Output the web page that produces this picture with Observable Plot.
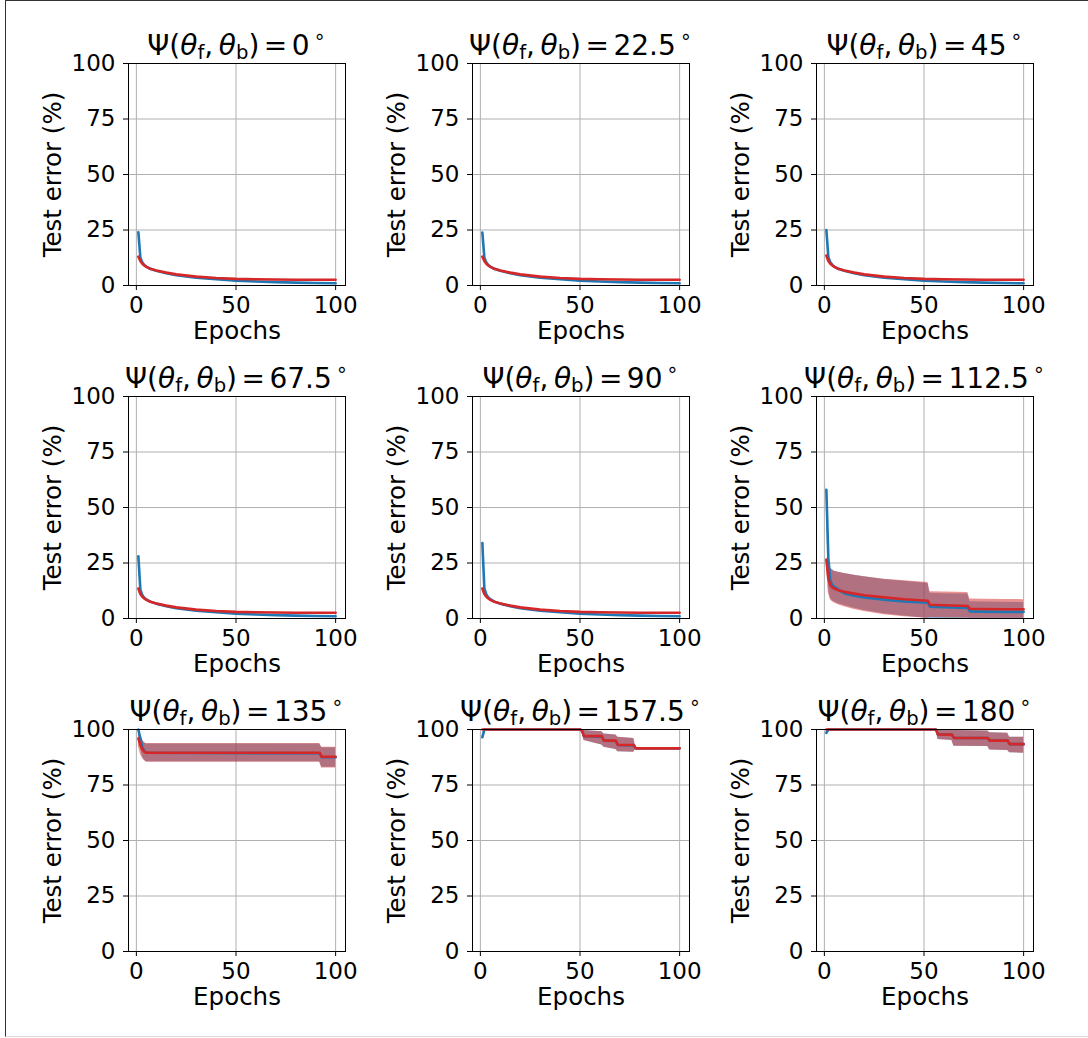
<!DOCTYPE html>
<html><head><meta charset="utf-8">
<script src="https://cdn.jsdelivr.net/npm/d3@7"></script>
<script src="https://cdn.jsdelivr.net/npm/@observablehq/plot@0.6"></script>
<style>
body{margin:0;background:#fff;}
#page{position:relative;width:1088px;height:1038px;overflow:hidden;font-family:"DejaVu Sans",sans-serif;background:#fff;}
#border{position:absolute;left:5px;top:0;width:1200px;height:1035px;border-left:1.5px solid #333;border-top:1.5px solid #333;border-bottom:1px solid #d8d8d8;}
.title{position:absolute;width:400px;text-align:center;font-size:28px;line-height:28px;white-space:nowrap;color:#000;font-family:"DejaVu Sans",sans-serif;}
.title i{font-style:italic;}
.sub{font-size:0.7em;position:relative;top:0.22em;}
.sup{font-size:0.7em;position:relative;top:-0.6em;margin-left:0.2em;}
.eq{margin:0 0.16em;}
</style></head><body><div id="page"><div id="border"></div></div>
<script>
// ---------- data ----------
const angles = ["0", "22.5", "45", "67.5", "90", "112.5", "135", "157.5", "180"];
const xTicks = [0, 50, 100];
const yTicks = [0, 25, 50, 75, 100];

// panels 0° – 90°: smooth decays (bands very narrow)
const epochsLow = [1, 2, 3, 4, 5, 7, 10, 15, 20, 30, 40, 50, 60, 70, 80, 90, 100];
const red0   = [13, 11, 9.8, 9, 8.4, 7.5, 6.8, 5.8, 5.0, 4.0, 3.4, 3.0, 2.8, 2.7, 2.6, 2.6, 2.6];
const blue0  = [24, 12.5, 10.3, 9.2, 8.5, 7.5, 6.6, 5.5, 4.6, 3.5, 2.8, 2.2, 1.8, 1.5, 1.3, 1.1, 1.0];
const red22  = [13, 11, 9.8, 9, 8.4, 7.5, 6.8, 5.8, 5.0, 4.0, 3.4, 3.0, 2.8, 2.7, 2.6, 2.6, 2.6];
const blue22 = [23.8, 12.5, 10.3, 9.2, 8.5, 7.5, 6.6, 5.5, 4.6, 3.5, 2.8, 2.2, 1.8, 1.5, 1.3, 1.1, 1.0];
const red45  = [13.5, 11, 9.8, 9, 8.4, 7.5, 6.8, 5.8, 5.0, 4.0, 3.4, 3.0, 2.8, 2.7, 2.6, 2.6, 2.6];
const blue45 = [25, 12.8, 10.4, 9.3, 8.5, 7.5, 6.6, 5.5, 4.6, 3.5, 2.8, 2.2, 1.8, 1.5, 1.3, 1.1, 1.0];
const red67  = [13.5, 11, 9.8, 9, 8.4, 7.5, 6.8, 5.8, 5.0, 4.0, 3.4, 3.0, 2.8, 2.7, 2.6, 2.6, 2.6];
const blue67 = [28, 13, 10.5, 9.3, 8.6, 7.6, 6.7, 5.5, 4.6, 3.5, 2.8, 2.2, 1.8, 1.5, 1.3, 1.1, 1.0];
const red90  = [13.5, 11, 9.8, 9, 8.4, 7.5, 6.8, 5.8, 5.0, 4.0, 3.4, 3.0, 2.8, 2.7, 2.6, 2.6, 2.6];
const blue90 = [34, 13.5, 10.8, 9.5, 8.7, 7.6, 6.7, 5.5, 4.6, 3.5, 2.8, 2.2, 1.8, 1.5, 1.3, 1.1, 1.0];

// panel 112.5°
const epochs112  = [1, 2, 3, 4, 5, 7, 10, 15, 20, 30, 40, 52, 53, 60, 72, 73, 80, 90, 100];
const red112     = [26.5, 18, 15, 14, 13.5, 12.7, 12, 11.2, 10.5, 9.5, 8.7, 8, 6.2, 6, 5.6, 4.4, 4.3, 4.2, 4.2];
const redHi112   = [27.5, 24, 22.5, 21.8, 21.3, 20.8, 20.3, 19.5, 18.8, 17.7, 17, 16.2, 12, 11.9, 11.7, 8.8, 8.7, 8.6, 8.5];
const redLo112   = [25.5, 11.5, 8.5, 7.5, 7, 6.2, 5.3, 4.1, 3.1, 1.7, 0.8, 0.1, 0.4, 0.3, 0.2, 0.1, 0.1, 0.1, 0.1];
const blue112    = [58, 27, 17, 15, 14.3, 13, 11.3, 10.3, 9.5, 8.5, 7.7, 7.1, 5.3, 5.1, 4.8, 3.2, 3.1, 3, 3];
const blueHi112  = [62, 29, 23, 22, 21.3, 20.8, 20.3, 19.5, 18.8, 17.6, 16.8, 15.8, 11.4, 11.2, 11, 7.5, 7.4, 7.3, 7.2];
const blueLo112  = [54, 14, 9.2, 8, 7.5, 6.6, 5.8, 4.6, 3.6, 2.1, 1.1, 0, 0, 0, 0, 0, 0, 0, 0];

// panel 135°
const epochs135  = [1, 2, 3, 4, 5, 92, 93, 100];
const red135     = [96, 93, 91, 90, 89.5, 89.5, 87.7, 87.7];
const redHi135   = [99.5, 97, 95, 94, 93.7, 93.7, 92, 92];
const redLo135   = [92.5, 89, 87, 86, 85.3, 85.3, 82.7, 82.7];
const blue135    = [100, 96, 92, 90.2, 89.5, 89.3, 87.5, 87.5];
const blueHi135  = [100, 98, 95.5, 94, 93.5, 93.5, 91.8, 91.8];
const blueLo135  = [99, 92, 88, 86.2, 85.5, 85.5, 83, 83];

// panel 157.5°
const epochs157  = [1, 50, 51, 52, 61, 62, 68, 69, 77, 78, 100];
const red157     = [100, 100, 99.5, 97, 97, 95, 95, 93, 93, 91.5, 91.5];
const redHi157   = [100, 100, 100, 99.5, 99, 98, 97.5, 96.5, 96, 91.8, 91.8];
const redLo157   = [100, 100, 99, 95, 93, 92, 91, 90, 89.8, 91.2, 91.2];
const blueEp157  = [1, 2, 50, 51, 52, 61, 62, 68, 69, 77, 78, 100];
const blue157    = [96.5, 100, 100, 99.5, 97, 96.8, 95, 94.8, 93, 92.8, 91.5, 91.5];
const blueHi157  = [97.5, 100, 100, 100, 99.5, 99, 98, 97.5, 96.5, 96, 91.8, 91.8];
const blueLo157  = [95.5, 100, 100, 99, 95, 93, 92, 91, 90, 89.8, 91.2, 91.2];

// panel 180°
const epochs180  = [1, 56, 57, 64, 65, 82, 83, 92, 93, 100];
const red180     = [100, 100, 97.8, 97.7, 96.2, 96.2, 95, 95, 93.4, 93.4];
const redHi180   = [100, 100, 99.8, 99.7, 99.5, 99.3, 98.5, 98.3, 96.5, 96.5];
const redLo180   = [100, 100, 95.5, 95, 92.5, 92.3, 90.8, 90.5, 89.5, 89.3];
const blueEp180  = [1, 2, 56, 57, 64, 65, 82, 83, 92, 93, 100];
const blue180    = [98.5, 100, 100, 97.8, 97.7, 96.2, 96.2, 95, 95, 93.4, 93.4];
const blueHi180  = [99.2, 100, 100, 99.8, 99.7, 99.5, 99.3, 98.5, 98.3, 96.5, 96.5];
const blueLo180  = [97.8, 100, 100, 95.5, 95, 92.5, 92.3, 90.8, 90.5, 89.5, 89.3];

// ---------- assemble ----------
function rows(x, y, lo, hi) {
  return x.map((e, i) => ({epoch: e, v: y[i], lo: lo ? lo[i] : y[i], hi: hi ? hi[i] : y[i]}));
}
const panels = [
  {blue: rows(epochsLow, blue0), red: rows(epochsLow, red0), band: false},
  {blue: rows(epochsLow, blue22), red: rows(epochsLow, red22), band: false},
  {blue: rows(epochsLow, blue45), red: rows(epochsLow, red45), band: false},
  {blue: rows(epochsLow, blue67), red: rows(epochsLow, red67), band: false},
  {blue: rows(epochsLow, blue90), red: rows(epochsLow, red90), band: false},
  {blue: rows(epochs112, blue112, blueLo112, blueHi112), red: rows(epochs112, red112, redLo112, redHi112), band: true},
  {blue: rows(epochs135, blue135, blueLo135, blueHi135), red: rows(epochs135, red135, redLo135, redHi135), band: true},
  {blue: rows(blueEp157, blue157, blueLo157, blueHi157), red: rows(epochs157, red157, redLo157, redHi157), band: true},
  {blue: rows(blueEp180, blue180, blueLo180, blueHi180), red: rows(epochs180, red180, redLo180, redHi180), band: true}
];

const BLUE = "#1f77b4", RED = "#d62728";
const colLeft = [128, 472, 816];
const rowTop = [63, 396, 729];
const ML = 100, MR = 28, MT = 40, MB = 71, PW = 217, PH = 222;
const page = document.getElementById("page");

panels.forEach((p, k) => {
  const r = Math.floor(k / 3), c = k % 3;
  const left = colLeft[c], top = rowTop[r];
  const marks = [
    Plot.gridX(xTicks, {stroke: "#b0b0b0", strokeOpacity: 1, strokeWidth: 1}),
    Plot.gridY(yTicks, {stroke: "#b0b0b0", strokeOpacity: 1, strokeWidth: 1})
  ];
  if (p.band) {
    marks.push(Plot.areaY(p.blue, {x: "epoch", y1: "lo", y2: "hi", fill: BLUE, fillOpacity: 0.5}));
    marks.push(Plot.areaY(p.red, {x: "epoch", y1: "lo", y2: "hi", fill: RED, fillOpacity: 0.5}));
  }
  marks.push(Plot.lineY(p.blue, {x: "epoch", y: "v", stroke: BLUE, strokeWidth: 2.6}));
  marks.push(Plot.lineY(p.red, {x: "epoch", y: "v", stroke: RED, strokeWidth: 2.6}));
  marks.push(Plot.frame({stroke: "black", strokeWidth: 1}));
  marks.push(Plot.axisX(xTicks, {tickSize: 5, tickPadding: 6, fontSize: 23, label: null}));
  marks.push(Plot.axisY(yTicks, {tickSize: 5, tickPadding: 8, fontSize: 23, label: null}));
  marks.push(Plot.text(["Epochs"], {text: d => d, frameAnchor: "bottom", dy: 46, lineAnchor: "middle", textAnchor: "middle", fontSize: 24.5}));
  marks.push(Plot.text(["Test error (%)"], {text: d => d, frameAnchor: "left", dx: -75, rotate: -90, lineAnchor: "middle", textAnchor: "middle", fontSize: 24.5}));

  const svg = Plot.plot({
    width: ML + PW + MR, height: MT + PH + MB,
    marginLeft: ML, marginRight: MR, marginTop: MT, marginBottom: MB,
    x: {domain: [-3.95, 104.95]},
    y: {domain: [0, 100]},
    style: {position: "absolute", left: (left - ML) + "px", top: (top - MT) + "px", overflow: "visible",
            background: "transparent", fontFamily: "DejaVu Sans, sans-serif", fontSize: "23px", color: "black"},
    marks
  });
  page.appendChild(svg);

  const t = document.createElement("div");
  t.className = "title";
  t.style.left = (left + PW / 2 - 200) + "px";
  t.style.top = (top - 31) + "px";
  t.innerHTML = `\u03A8(<i>\u03B8</i><span class="sub">f</span>,\u2009<i>\u03B8</i><span class="sub">b</span>)<span class="eq">=</span>${angles[k]}<span class="sup">\u2218</span>`;
  page.appendChild(t);
});
</script></body></html>
